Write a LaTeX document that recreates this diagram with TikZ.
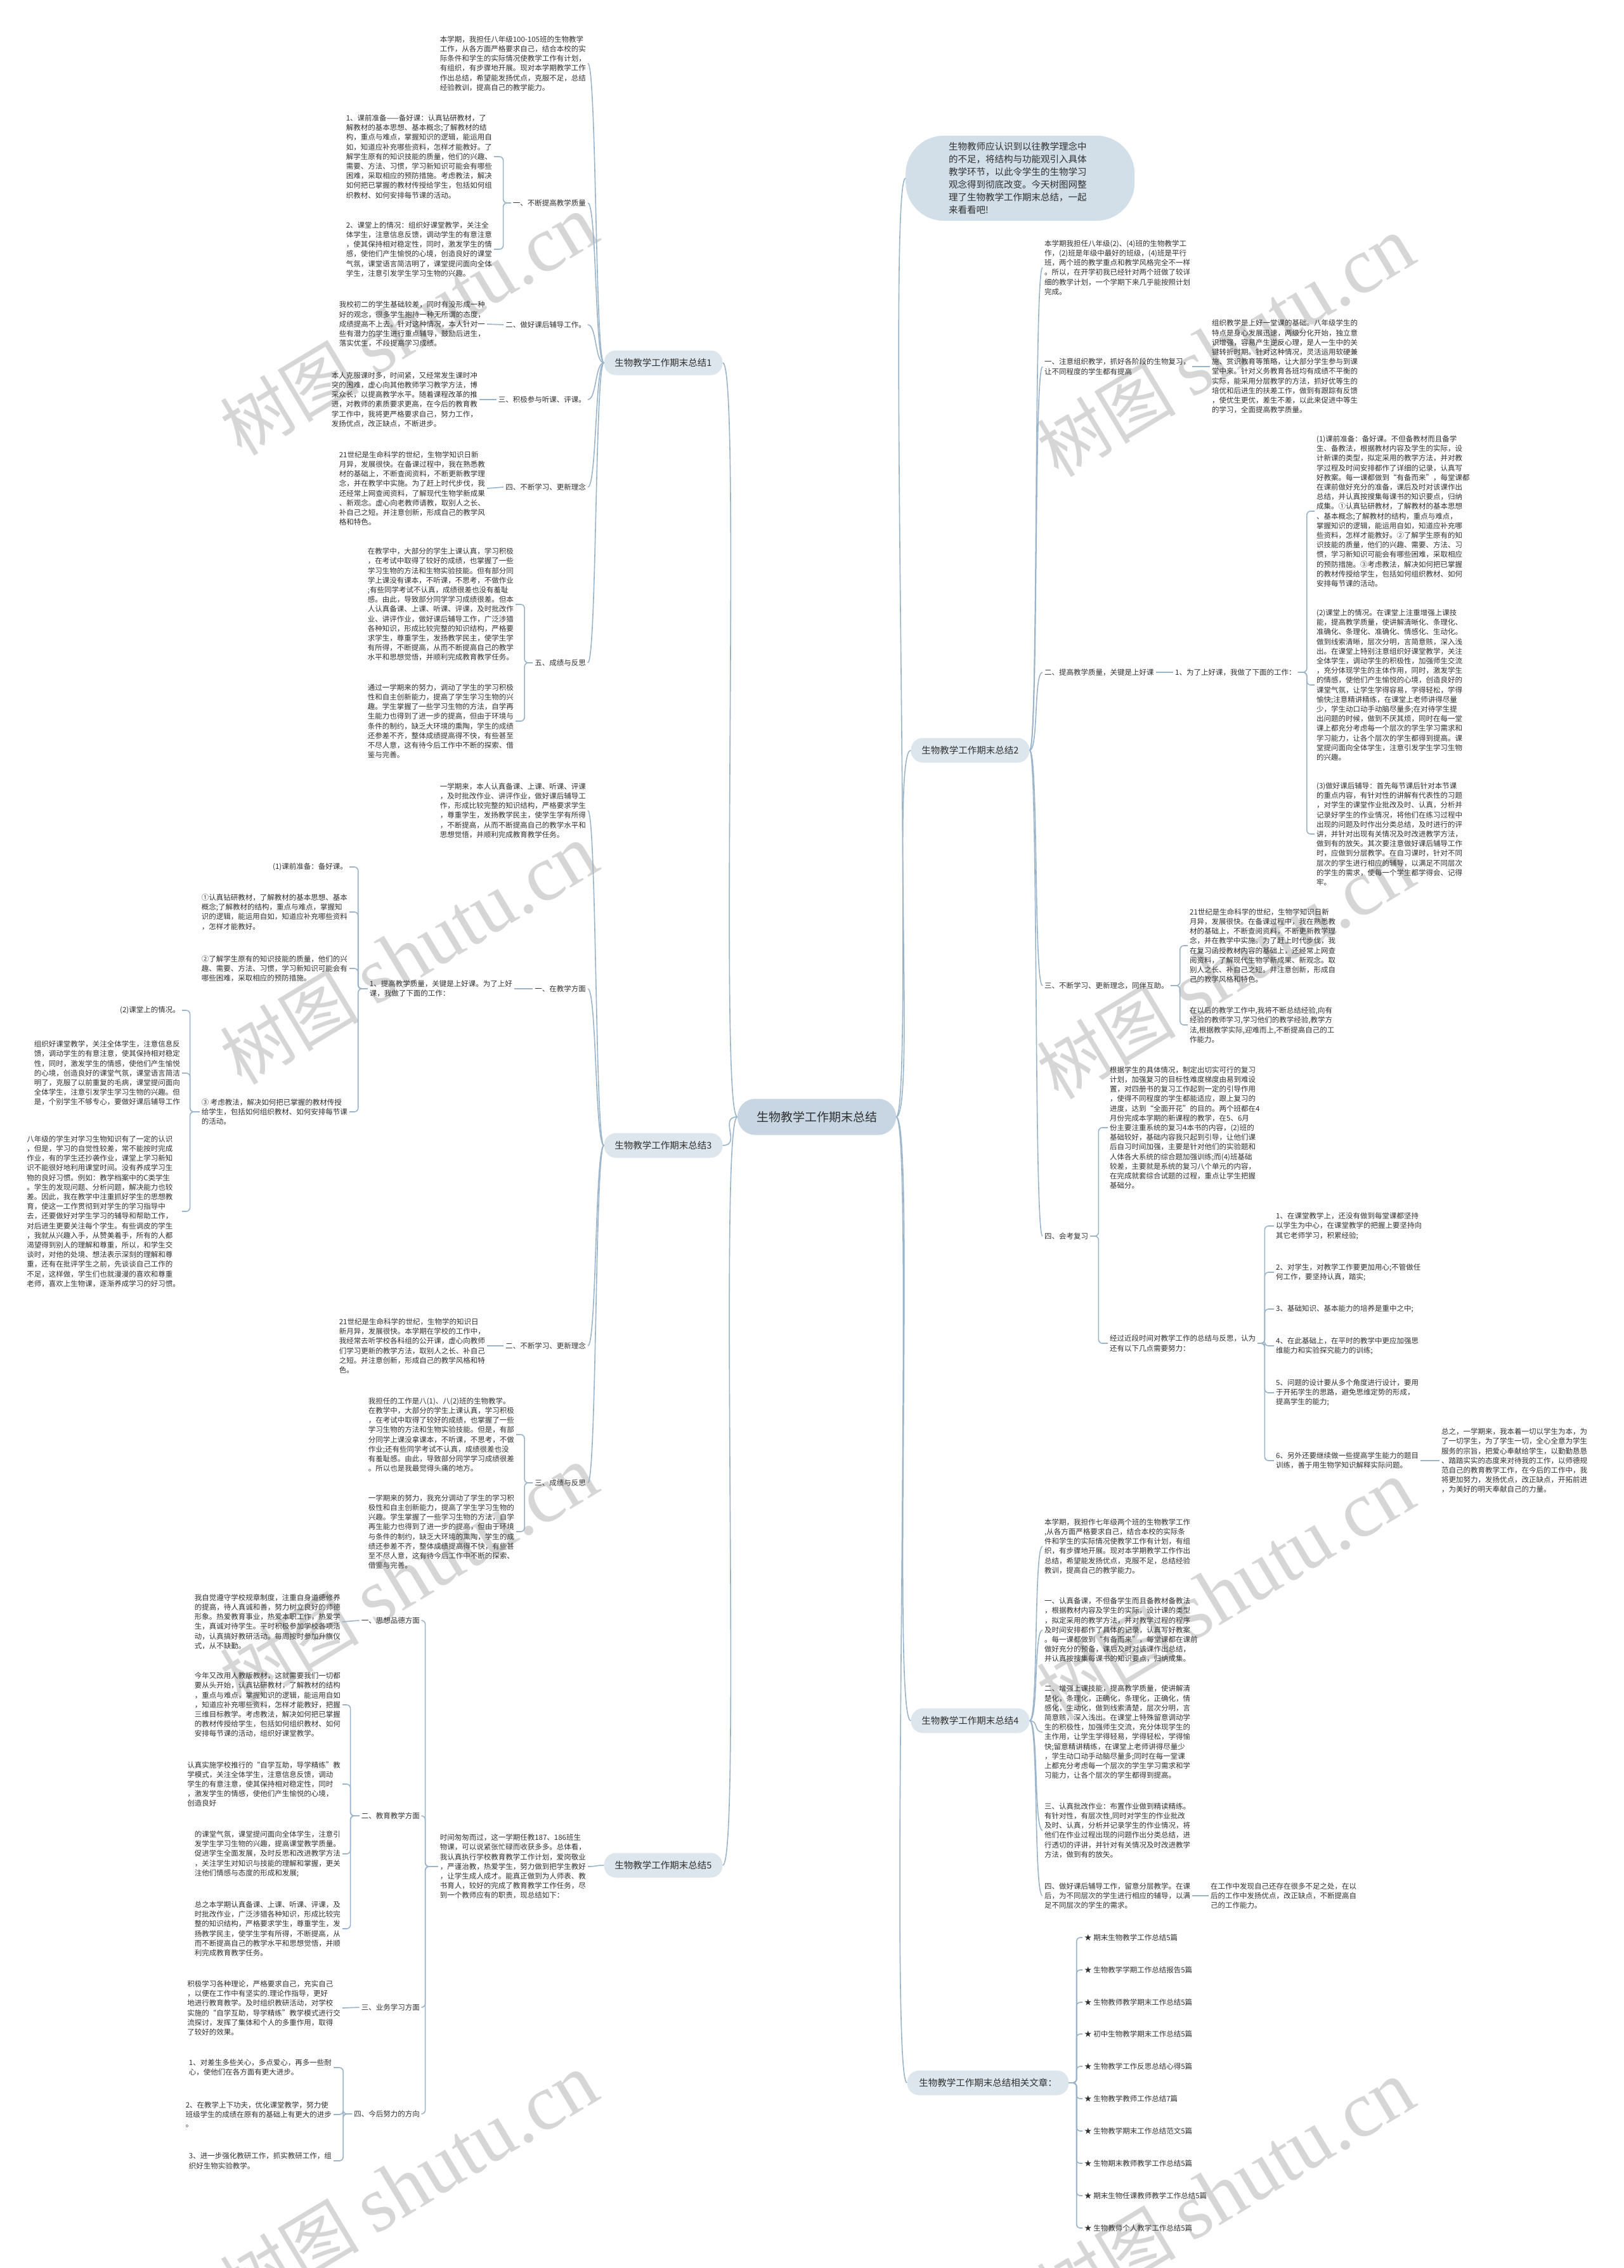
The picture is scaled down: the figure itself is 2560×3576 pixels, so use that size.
\documentclass[tikz,border=0pt]{standalone}
\usepackage{fontspec}
\usepackage{tikz}
\usetikzlibrary{positioning, calc}
\setmainfont{Noto Sans CJK SC}
\newfontfamily\wmserif{Liberation Serif}
\definecolor{linkblue}{RGB}{155,180,201}
\definecolor{rootfill}{RGB}{199,214,226}
\definecolor{topicfill}{RGB}{221,230,237}
\definecolor{bodytext}{RGB}{48,48,48}
\definecolor{wmgray}{RGB}{214,214,214}

\begin{document}
\begin{tikzpicture}[x=1pt, y=-1pt,
    rootnode/.style={rectangle, rounded corners=28pt, fill=rootfill, minimum width=250pt, minimum height=57pt,
      font=\fontsize{19}{23}\selectfont, text=bodytext},
    topic/.style={rectangle, rounded corners=19pt, fill=topicfill, minimum width=187pt, minimum height=39pt,
      font=\fontsize{14.5}{18}\selectfont, text=bodytext},
    bubble/.style={rectangle, rounded corners=60pt, fill=rootfill!80!white, text width=225pt, inner xsep=68pt,
      minimum height=134pt, align=left, font=\fontsize{14.5}{20}\selectfont, text=bodytext},
    txt/.style={align=left, inner sep=3pt, font=\fontsize{11.5}{15.2}\selectfont, text=bodytext},
    ltxt/.style={txt, anchor=east},
    rtxt/.style={txt, anchor=west},
    link/.style={draw=linkblue, line width=1.6pt, rounded corners=6pt},
    wmark/.style={text=wmgray, rotate=31, font=\fontsize{110}{110}\selectfont}
  ]
  \fill[white] (0,0) rectangle (2560,3576);
  \useasboundingbox (0,0) rectangle (2560,3576);

  \node[wmark] (wm1) at (645,513) {树图 {\wmserif\fontsize{125}{125}\selectfont shutu.cn}};
  \node[wmark] (wm2) at (1933,547) {树图 {\wmserif\fontsize{125}{125}\selectfont shutu.cn}};
  \node[wmark] (wm3) at (645,1505) {树图 {\wmserif\fontsize{125}{125}\selectfont shutu.cn}};
  \node[wmark] (wm4) at (1933,1528) {树图 {\wmserif\fontsize{125}{125}\selectfont shutu.cn}};
  \node[wmark] (wm5) at (645,2485) {树图 {\wmserif\fontsize{125}{125}\selectfont shutu.cn}};
  \node[wmark] (wm6) at (1933,2508) {树图 {\wmserif\fontsize{125}{125}\selectfont shutu.cn}};
  \node[wmark] (wm7) at (645,3443) {树图 {\wmserif\fontsize{125}{125}\selectfont shutu.cn}};
  \node[wmark] (wm8) at (1933,3454) {树图 {\wmserif\fontsize{125}{125}\selectfont shutu.cn}};

  \node[rootnode] (root) at (1288,1761) {生物教学工作期末总结};

  \node[topic] (b1) at (1046,572) {生物教学工作期末总结1};
  \node[topic] (b3) at (1046,1806) {生物教学工作期末总结3};
  \node[topic] (b5) at (1046,2941) {生物教学工作期末总结5};
  \node[topic] (b2) at (1530,1183) {生物教学工作期末总结2};
  \node[topic] (b4) at (1530,2713) {生物教学工作期末总结4};
  \node[topic, minimum width=255pt] (rel) at (1558,3284) {生物教学工作期末总结相关文章：};
  \node[bubble, anchor=west] (intro) at (1428,281) {生物教师应认识到以往教学理念中\\的不足，将结构与功能观引入具体\\教学环节，以此令学生的生物学习\\观念得到彻底改变。今天树图网整\\理了生物教学工作期末总结，一起\\来看看吧!};

  \draw[link] (root.west) .. controls +(-30,0) and +(30,0) .. (b1.east);
  \draw[link] (root.west) .. controls +(-30,0) and +(30,0) .. (b3.east);
  \draw[link] (root.west) .. controls +(-30,0) and +(30,0) .. (b5.east);
  \draw[link] (root.east) .. controls +(30,0) and +(-30,0) .. (intro.west);
  \draw[link] (root.east) .. controls +(30,0) and +(-30,0) .. (b2.west);
  \draw[link] (root.east) .. controls +(30,0) and +(-30,0) .. (b4.west);
  \draw[link] (root.east) .. controls +(30,0) and +(-30,0) .. (rel.west);

  \node[ltxt] (b1intro) at (927,100) {本学期，我担任八年级100-105班的生物教学\\工作，从各方面严格要求自己，结合本校的实\\际条件和学生的实际情况使教学工作有计划，\\有组织，有步骤地开展。现对本学期教学工作\\作出总结，希望能发扬优点，克服不足，总结\\经验教训，提高自己的教学能力。};
  \node[ltxt] (b1s1) at (927,320) {一、不断提高教学质量};
  \node[ltxt] (b1s1a) at (779,247) {1、课前准备——备好课：认真钻研教材，了\\解教材的基本思想、基本概念;了解教材的结\\构，重点与难点，掌握知识的逻辑，能运用自\\如，知道应补充哪些资料，怎样才能教好。了\\解学生原有的知识技能的质量，他们的兴趣、\\需要、方法、习惯，学习新知识可能会有哪些\\困难，采取相应的预防措施。考虑教法，解决\\如何把已掌握的教材传授给学生，包括如何组\\织教材、如何安排每节课的活动。};
  \node[ltxt] (b1s1b) at (779,393) {2、课堂上的情况：组织好课堂教学，关注全\\体学生，注意信息反馈，调动学生的有意注意\\，使其保持相对稳定性，同时，激发学生的情\\感，使他们产生愉悦的心境，创造良好的课堂\\气氛，课堂语言简洁明了，课堂提问面向全体\\学生，注意引发学生学习生物的兴趣。};
  \node[ltxt] (b1s2) at (927,512) {二、做好课后辅导工作。};
  \node[ltxt] (b1s2a) at (768,511) {我校初二的学生基础较差，同时有没形成一种\\好的观念，很多学生抱持一种无所谓的态度，\\成绩提高不上去。针对这种情况，本人针对一\\些有潜力的学生进行重点辅导，鼓励后进生，\\落实优生，不段提高学习成绩。};
  \node[ltxt] (b1s3) at (927,630) {三、积极参与听课、评课。};
  \node[ltxt] (b1s3a) at (756,630) {本人克服课时多，时间紧，又经常发生课时冲\\突的困难，虚心向其他教师学习教学方法，博\\采众长，以提高教学水平。随着课程改革的推\\进，对教师的素质要求更高，在今后的教育教\\学工作中，我将更严格要求自己，努力工作，\\发扬优点，改正缺点，不断进步。};
  \node[ltxt] (b1s4) at (927,768) {四、不断学习、更新理念};
  \node[ltxt] (b1s4a) at (768,770) {21世纪是生命科学的世纪，生物学知识日新\\月异，发展很快。在备课过程中，我在熟悉教\\材的基础上，不断查阅资料，不断更新教学理\\念，并在教学中实施。为了赶上时代步伐，我\\还经常上网查阅资料，了解现代生物学新成果\\、新观念。虚心向老教师请教，取别人之长、\\补自己之短。并注意创新，形成自己的教学风\\格和特色。};
  \node[ltxt] (b1s5) at (927,1045) {五、成绩与反思};
  \node[ltxt] (b1s5a) at (813,953) {在教学中，大部分的学生上课认真，学习积极\\，在考试中取得了较好的成绩，也掌握了一些\\学习生物的方法和生物实验技能。但有部分同\\学上课没有课本，不听课，不思考，不做作业\\;有些同学考试不认真，成绩很差也没有羞耻\\感。由此，导致部分同学学习成绩很差。但本\\人认真备课、上课、听课、评课，及时批改作\\业、讲评作业，做好课后辅导工作，广泛涉猎\\各种知识，形成比较完整的知识结构，严格要\\求学生，尊重学生，发扬教学民主，使学生学\\有所得，不断提高，从而不断提高自己的教学\\水平和思想觉悟，并顺利完成教育教学任务。};
  \node[ltxt] (b1s5b) at (813,1137) {通过一学期来的努力，调动了学生的学习积极\\性和自主创新能力，提高了学生学习生物的兴\\趣。学生掌握了一些学习生物的方法，自学再\\生能力也得到了进一步的提高，但由于环境与\\条件的制约，缺乏大环境的熏陶，学生的成绩\\还参差不齐，整体成绩提高得不快，有些甚至\\不尽人意，这有待今后工作中不断的探索、借\\鉴与完善。};

  \draw[link] (b1.west) .. controls +(-14,0) and +(14,0) .. (b1intro.east);
  \draw[link] (b1.west) .. controls +(-14,0) and +(14,0) .. (b1s1.east);
  \draw[link] (b1.west) .. controls +(-14,0) and +(14,0) .. (b1s2.east);
  \draw[link] (b1.west) .. controls +(-14,0) and +(14,0) .. (b1s3.east);
  \draw[link] (b1.west) .. controls +(-14,0) and +(14,0) .. (b1s4.east);
  \draw[link] (b1.west) .. controls +(-14,0) and +(14,0) .. (b1s5.east);
  \draw[link] (b1s1.west) -- ++(-12,0) |- (b1s1a.east);
  \draw[link] (b1s1.west) -- ++(-12,0) |- (b1s1b.east);
  \draw[link] (b1s2.west) -- (b1s2a.east);
  \draw[link] (b1s3.west) -- (b1s3a.east);
  \draw[link] (b1s4.west) -- (b1s4a.east);
  \draw[link] (b1s5.west) -- ++(-13,0) |- (b1s5a.east);
  \draw[link] (b1s5.west) -- ++(-13,0) |- (b1s5b.east);

  \node[ltxt] (b3intro) at (927,1278) {一学期来，本人认真备课、上课、听课、评课\\，及时批改作业、讲评作业，做好课后辅导工\\作，形成比较完整的知识结构，严格要求学生\\，尊重学生，发扬教学民主，使学生学有所得\\，不断提高，从而不断提高自己的教学水平和\\思想觉悟，并顺利完成教育教学任务。};
  \node[ltxt] (b3s1) at (927,1559) {一、在教学方面};
  \node[ltxt] (b3s1a) at (811,1559) {1、提高教学质量，关键是上好课。为了上好\\课，我做了下面的工作：};
  \node[ltxt] (b3p1) at (551,1367) {(1)课前准备：备好课。};
  \node[ltxt] (b3p2) at (551,1438) {①认真钻研教材，了解教材的基本思想、基本\\概念;了解教材的结构，重点与难点，掌握知\\识的逻辑，能运用自如，知道应补充哪些资料\\，怎样才能教好。};
  \node[ltxt] (b3p3) at (551,1527) {②了解学生原有的知识技能的质量，他们的兴\\趣、需要、方法、习惯，学习新知识可能会有\\哪些困难，采取相应的预防措施。};
  \node[ltxt] (b3p4) at (551,1753) {③ 考虑教法，解决如何把已掌握的教材传授\\给学生，包括如何组织教材、如何安排每节课\\的活动。};
  \node[ltxt] (b3q1) at (287,1593) {(2)课堂上的情况。};
  \node[ltxt] (b3q2) at (287,1692) {组织好课堂教学，关注全体学生，注意信息反\\馈，调动学生的有意注意，使其保持相对稳定\\性，同时，激发学生的情感，使他们产生愉悦\\的心境，创造良好的课堂气氛，课堂语言简洁\\明了，克服了以前重复的毛病，课堂提问面向\\全体学生，注意引发学生学习生物的兴趣。但\\是，个别学生不够专心，要做好课后辅导工作};
  \node[ltxt] (b3q3) at (287,1910) {八年级的学生对学习生物知识有了一定的认识\\，但是，学习的自觉性较差，常不能按时完成\\作业，有的学生还抄袭作业，课堂上学习新知\\识不能很好地利用课堂时间。没有养成学习生\\物的良好习惯。例如：教学档案中的C类学生\\。学生的发现问题、分析问题，解决能力也较\\差。因此，我在教学中注重抓好学生的思想教\\育，使这一工作贯彻到对学生的学习指导中\\去，还要做好对学生学习的辅导和帮助工作，\\对后进生更要关注每个学生。有些调皮的学生\\，我就从兴趣入手，从赞美着手，所有的人都\\渴望得到别人的理解和尊重，所以，和学生交\\谈时，对他的处境、想法表示深刻的理解和尊\\重，还有在批评学生之前，先谈谈自己工作的\\不足，这样做，学生们也就漫漫的喜欢和尊重\\老师，喜欢上生物课，逐渐养成学习的好习惯。};
  \node[ltxt] (b3s2) at (927,2122) {二、不断学习、更新理念};
  \node[ltxt] (b3s2a) at (768,2122) {21世纪是生命科学的世纪，生物学的知识日\\新月异，发展很快。本学期在学校的工作中，\\我经常去听学校各科组的公开课，虚心向教师\\们学习更新的教学方法，取别人之长、补自己\\之短。并注意创新，形成自己的教学风格和特\\色。};
  \node[ltxt] (b3s3) at (927,2338) {三、成绩与反思};
  \node[ltxt] (b3s3a) at (814,2262) {我担任的工作是八(1)、八(2)班的生物教学。\\在教学中，大部分的学生上课认真，学习积极\\，在考试中取得了较好的成绩，也掌握了一些\\学习生物的方法和生物实验技能。但是，有部\\分同学上课没拿课本，不听课，不思考，不做\\作业;还有些同学考试不认真，成绩很差也没\\有羞耻感。由此，导致部分同学学习成绩很差\\。所以也是我最觉得头痛的地方。};
  \node[ltxt] (b3s3b) at (814,2415) {一学期来的努力，我充分调动了学生的学习积\\极性和自主创新能力，提高了学生学习生物的\\兴趣。学生掌握了一些学习生物的方法，自学\\再生能力也得到了进一步的提高，但由于环境\\与条件的制约，缺乏大环境的熏陶，学生的成\\绩还参差不齐，整体成绩提高得不快，有些甚\\至不尽人意，这有待今后工作中不断的探索、\\借鉴与完善。};

  \draw[link] (b3.west) .. controls +(-14,0) and +(14,0) .. (b3intro.east);
  \draw[link] (b3.west) .. controls +(-14,0) and +(14,0) .. (b3s1.east);
  \draw[link] (b3.west) .. controls +(-14,0) and +(14,0) .. (b3s2.east);
  \draw[link] (b3.west) .. controls +(-14,0) and +(14,0) .. (b3s3.east);
  \draw[link] (b3s1.west) -- (b3s1a.east);
  \draw[link] (b3s1a.west) -- ++(-15,0) |- (b3p1.east);
  \draw[link] (b3s1a.west) -- ++(-15,0) |- (b3p2.east);
  \draw[link] (b3s1a.west) -- ++(-15,0) |- (b3p3.east);
  \draw[link] (b3s1a.west) -- ++(-15,0) |- (b3p4.east);
  \draw[link] (b3p4.west) -- ++(-15,0) |- (b3q1.east);
  \draw[link] (b3p4.west) -- ++(-15,0) |- (b3q2.east);
  \draw[link] (b3p4.west) -- ++(-15,0) |- (b3q3.east);
  \draw[link] (b3s2.west) -- (b3s2a.east);
  \draw[link] (b3s3.west) -- ++(-13,0) |- (b3s3a.east);
  \draw[link] (b3s3.west) -- ++(-13,0) |- (b3s3b.east);

  \node[ltxt] (b5root) at (927,2943) {时间匆匆而过，这一学期任教187、186班生\\物课，可以说紧张忙碌而收获多多。总体看，\\我认真执行学校教育教学工作计划，爱岗敬业\\，严谨治教，热爱学生，努力做到把学生教好\\，让学生成人成才。能真正做到为人师表、教\\书育人，较好的完成了教育教学工作任务，尽\\到一个教师应有的职责，现总结如下：};
  \node[ltxt] (b5s1) at (665,2555) {一、思想品德方面};
  \node[ltxt] (b5s1a) at (540,2557) {我自觉遵守学校规章制度，注重自身道德修养\\的提高，待人真诚和善，努力树立良好的师德\\形象。热爱教育事业，热爱本职工作，热爱学\\生，真诚对待学生。平时积极参加学校各项活\\动，认真搞好教研活动。每周按时参加升旗仪\\式，从不缺勤。};
  \node[ltxt] (b5s2) at (665,2863) {二、教育教学方面};
  \node[ltxt] (b5s2a) at (540,2688) {今年又改用人教版教材，这就需要我们一切都\\要从头开始，认真钻研教材，了解教材的结构\\，重点与难点，掌握知识的逻辑，能运用自如\\，知道应补充哪些资料，怎样才能教好，把握\\三维目标教学。考虑教法，解决如何把已掌握\\的教材传授给学生，包括如何组织教材、如何\\安排每节课的活动，组织好课堂教学。};
  \node[ltxt] (b5s2b) at (540,2813) {认真实施学校推行的“自学互助，导学精练”教\\学模式，关注全体学生，注意信息反馈，调动\\学生的有意注意，使其保持相对稳定性，同时\\，激发学生的情感，使他们产生愉悦的心境，\\创造良好};
  \node[ltxt] (b5s2c) at (540,2923) {的课堂气氛，课堂提问面向全体学生，注意引\\发学生学习生物的兴趣，提高课堂教学质量。\\促进学生全面发展，及时反思和改进教学方法\\，关注学生对知识与技能的理解和掌握，更关\\注他们情感与态度的形成和发展;};
  \node[ltxt] (b5s2d) at (540,3041) {总之本学期认真备课、上课、听课、评课，及\\时批改作业，广泛涉猎各种知识，形成比较完\\整的知识结构，严格要求学生，尊重学生，发\\扬教学民主，使学生学有所得，不断提高，从\\而不断提高自己的教学水平和思想觉悟，并顺\\利完成教育教学任务。};
  \node[ltxt] (b5s3) at (665,3165) {三、业务学习方面};
  \node[ltxt] (b5s3a) at (540,3166) {积极学习各种理论，严格要求自己，充实自己\\，以便在工作中有坚实的.理论作指导，更好\\地进行教育教学。及时组织教研活动，对学校\\实施的“自学互助，导学精练”教学模式进行交\\流探讨，发挥了集体和个人的多重作用，取得\\了较好的效果。};
  \node[ltxt] (b5s4) at (665,3333) {四、今后努力的方向};
  \node[ltxt] (b5s4a) at (526,3260) {1、对差生多些关心，多点爱心，再多一些耐\\心，使他们在各方面有更大进步。};
  \node[ltxt] (b5s4b) at (526,3334) {2、在教学上下功夫，优化课堂教学，努力使\\班级学生的成绩在原有的基础上有更大的进步\\。};
  \node[ltxt] (b5s4c) at (526,3407) {3、进一步强化教研工作，抓实教研工作，组\\织好生物实验教学。};

  \draw[link] (b5.west) .. controls +(-14,0) and +(14,0) .. (b5root.east);
  \draw[link] (b5root.west) -- ++(-20,0) |- (b5s1.east);
  \draw[link] (b5root.west) -- ++(-20,0) |- (b5s2.east);
  \draw[link] (b5root.west) -- ++(-20,0) |- (b5s3.east);
  \draw[link] (b5root.west) -- ++(-20,0) |- (b5s4.east);
  \draw[link] (b5s1.west) -- (b5s1a.east);
  \draw[link] (b5s2.west) -- ++(-14,0) |- (b5s2a.east);
  \draw[link] (b5s2.west) -- ++(-14,0) |- (b5s2b.east);
  \draw[link] (b5s2.west) -- ++(-14,0) |- (b5s2c.east);
  \draw[link] (b5s2.west) -- ++(-14,0) |- (b5s2d.east);
  \draw[link] (b5s3.west) -- (b5s3a.east);
  \draw[link] (b5s4.west) -- ++(-14,0) |- (b5s4a.east);
  \draw[link] (b5s4.west) -- ++(-14,0) |- (b5s4b.east);
  \draw[link] (b5s4.west) -- ++(-14,0) |- (b5s4c.east);

  \node[rtxt] (b2intro) at (1644,422) {本学期我担任八年级(2)、(4)班的生物教学工\\作，(2)班是年级中最好的班级，(4)班是平行\\班，两个班的教学重点和教学风格完全不一样\\。所以，在开学初我已经针对两个班做了较详\\细的教学计划，一个学期下来几乎能按照计划\\完成。};
  \node[rtxt] (b2s1) at (1644,578) {一、注意组织教学，抓好各阶段的生物复习，\\让不同程度的学生都有提高};
  \node[rtxt] (b2s1a) at (1908,578) {组织教学是上好一堂课的基础。八年级学生的\\特点是身心发展迅速，两级分化开始，独立意\\识增强，容易产生逆反心理，是人一生中的关\\键转折时期。针对这种情况，灵活运用软硬兼\\施、赏识教育等策略，让大部分学生参与到课\\堂中来。针对义务教育各班均有成绩不平衡的\\实际，能采用分层教学的方法，抓好优等生的\\培优和后进生的扶差工作，做到有跟踪有反馈\\，使优生更优，差生不差，以此来促进中等生\\的学习，全面提高教学质量。};
  \node[rtxt] (b2s2) at (1644,1060) {二、提高教学质量，关键是上好课};
  \node[rtxt] (b2s2a) at (1850,1060) {1、为了上好课，我做了下面的工作：};
  \node[rtxt] (b2p1) at (2073,806) {(1)课前准备：备好课。不但备教材而且备学\\生、备教法，根据教材内容及学生的实际，设\\计新课的类型，拟定采用的教学方法，并对教\\学过程及时间安排都作了详细的记录，认真写\\好教案。每一课都做到“有备而来”，每堂课都\\在课前做好充分的准备，课后及时对该课作出\\总结，并认真按搜集每课书的知识要点，归纳\\成集。①认真钻研教材，了解教材的基本思想\\、基本概念;了解教材的结构，重点与难点，\\掌握知识的逻辑，能运用自如，知道应补充哪\\些资料，怎样才能教好。②了解学生原有的知\\识技能的质量，他们的兴趣、需要、方法、习\\惯，学习新知识可能会有哪些困难，采取相应\\的预防措施。③考虑教法，解决如何把已掌握\\的教材传授给学生，包括如何组织教材、如何\\安排每节课的活动。};
  \node[rtxt] (b2p2) at (2073,1080) {(2)课堂上的情况。在课堂上注重增强上课技\\能，提高教学质量，使讲解清晰化、条理化、\\准确化、条理化、准确化、情感化、生动化。\\做到线索清晰，层次分明，言简意赅，深入浅\\出。在课堂上特别注意组织好课堂教学，关注\\全体学生，调动学生的积极性，加强师生交流\\，充分体现学生的主体作用，同时，激发学生\\的情感，使他们产生愉悦的心境，创造良好的\\课堂气氛，让学生学得容易，学得轻松，学得\\愉快;注意精讲精练，在课堂上老师讲得尽量\\少，学生动口动手动脑尽量多;在对待学生提\\出问题的时候，做到不厌其烦，同时在每一堂\\课上都充分考虑每一个层次的学生学习需求和\\学习能力，让各个层次的学生都得到提高。课\\堂提问面向全体学生，注意引发学生学习生物\\的兴趣。};
  \node[rtxt] (b2p3) at (2073,1315) {(3)做好课后辅导：首先每节课后针对本节课\\的重点内容，有针对性的讲解有代表性的习题\\，对学生的课堂作业批改及时、认真，分析并\\记录好学生的作业情况，将他们在练习过程中\\出现的问题及时作出分类总结，及时进行的评\\讲，并针对出现有关情况及时改进教学方法，\\做到有的放矢。其次要注意做好课后辅导工作\\时，应做到分层教学。在自习课时，针对不同\\层次的学生进行相应的辅导，以满足不同层次\\的学生的需求，使每一个学生都学得会、记得\\牢。};
  \node[rtxt] (b2s3) at (1644,1554) {三、不断学习、更新理念，同伴互助。};
  \node[rtxt] (b2s3a) at (1873,1491) {21世纪是生命科学的世纪，生物学知识日新\\月异，发展很快。在备课过程中，我在熟悉教\\材的基础上，不断查阅资料，不断更新教学理\\念，并在教学中实施。为了赶上时代步伐，我\\在复习函授教材内容的基础上，还经常上网查\\阅资料，了解现代生物学新成果、新观念。取\\别人之长、补自己之短。并注意创新，形成自\\己的教学风格和特色。};
  \node[rtxt] (b2s3b) at (1873,1616) {在以后的教学工作中,我将不断总结经验,向有\\经验的教师学习,学习他们的教学经验,教学方\\法,根据教学实际,迎难而上,不断提高自己的工\\作能力。};
  \node[rtxt] (b2s4) at (1644,1949) {四、会考复习};
  \node[rtxt] (b2s4a) at (1747,1778) {根据学生的具体情况，制定出切实可行的复习\\计划，加强复习的目标性难度梯度由易到难设\\置，对四册书的复习工作起到一定的引导作用\\，使得不同程度的学生都能适应，跟上复习的\\进度，达到“全面开花”的目的。两个班都在4\\月份完成本学期的新课程的教学，在5、6月\\份主要注重系统的复习4本书的内容，(2)班的\\基础较好，基础内容我只起到引导，让他们课\\后自习时间加强，主要是针对他们的实验题和\\人体各大系统的综合题加强训练;而(4)班基础\\较差，主要就是系统的复习八个单元的内容，\\在完成就套综合试题的过程，重点让学生把握\\基础分。};
  \node[rtxt] (b2s4b) at (1747,2118) {经过近段时间对教学工作的总结与反思，认为\\还有以下几点需要努力：};
  \node[rtxt] (b2r1) at (2009,1933) {1、在课堂教学上，还没有做到每堂课都坚持\\以学生为中心，在课堂教学的把握上要坚持向\\其它老师学习，积累经验;};
  \node[rtxt] (b2r2) at (2009,2006) {2、对学生，对教学工作要更加用心;不管做任\\何工作，要坚持认真，踏实;};
  \node[rtxt] (b2r3) at (2009,2064) {3、基础知识、基本能力的培养是重中之中;};
  \node[rtxt] (b2r4) at (2009,2122) {4、在此基础上，在平时的教学中更应加强思\\维能力和实验探究能力的训练;};
  \node[rtxt] (b2r5) at (2009,2196) {5、问题的设计要从多个角度进行设计，要用\\于开拓学生的思路，避免思维定势的形成，\\提高学生的能力;};
  \node[rtxt] (b2r6) at (2009,2303) {6、另外还要继续做一些提高学生能力的题目\\训练，善于用生物学知识解释实际问题。};
  \node[rtxt] (b2sum) at (2270,2303) {总之，一学期来，我本着一切以学生为本，为\\了一切学生，为了学生一切，全心全意为学生\\服务的宗旨，把爱心奉献给学生，以勤勤恳恳\\、踏踏实实的态度来对待我的工作，以师德规\\范自己的教育教学工作，在今后的工作中，我\\将更加努力，发扬优点，改正缺点，开拓前进\\，为美好的明天奉献自己的力量。};

  \draw[link] (b2.east) .. controls +(14,0) and +(-14,0) .. (b2intro.west);
  \draw[link] (b2.east) .. controls +(14,0) and +(-14,0) .. (b2s1.west);
  \draw[link] (b2.east) .. controls +(14,0) and +(-14,0) .. (b2s2.west);
  \draw[link] (b2.east) .. controls +(14,0) and +(-14,0) .. (b2s3.west);
  \draw[link] (b2.east) .. controls +(14,0) and +(-14,0) .. (b2s4.west);
  \draw[link] (b2s1.east) -- (b2s1a.west);
  \draw[link] (b2s2.east) -- (b2s2a.west);
  \draw[link] (b2s2a.east) -- ++(14,0) |- (b2p1.west);
  \draw[link] (b2s2a.east) -- ++(14,0) |- (b2p2.west);
  \draw[link] (b2s2a.east) -- ++(14,0) |- (b2p3.west);
  \draw[link] (b2s3.east) -- ++(15,0) |- (b2s3a.west);
  \draw[link] (b2s3.east) -- ++(15,0) |- (b2s3b.west);
  \draw[link] (b2s4.east) -- ++(13,0) |- (b2s4a.west);
  \draw[link] (b2s4.east) -- ++(13,0) |- (b2s4b.west);
  \draw[link] (b2s4b.east) -- ++(11,0) |- (b2r1.west);
  \draw[link] (b2s4b.east) -- ++(11,0) |- (b2r2.west);
  \draw[link] (b2s4b.east) -- ++(11,0) |- (b2r3.west);
  \draw[link] (b2s4b.east) -- ++(11,0) |- (b2r4.west);
  \draw[link] (b2s4b.east) -- ++(11,0) |- (b2r5.west);
  \draw[link] (b2s4b.east) -- ++(11,0) |- (b2r6.west);
  \draw[link] (b2r6.east) -- (b2sum.west);

  \node[rtxt] (b4intro) at (1644,2438) {本学期，我担作七年级两个班的生物教学工作\\,从各方面严格要求自己，结合本校的实际条\\件和学生的实际情况使教学工作有计划，有组\\织，有步骤地开展。现对本学期教学工作作出\\总结，希望能发扬优点，克服不足，总结经验\\教训，提高自己的教学能力。};
  \node[rtxt] (b4s1) at (1644,2570) {一、认真备课，不但备学生而且备教材备教法\\，根据教材内容及学生的实际，设计课的类型\\，拟定采用的教学方法，并对教学过程的程序\\及时间安排都作了具体的记录，认真写好教案\\。每一课都做到“有备而来”，每堂课都在课前\\做好充分的预备，课后及时对该课作出总结，\\并认真按搜集每课书的知识要点，归纳成集。};
  \node[rtxt] (b4s2) at (1644,2731) {二、增强上课技能，提高教学质量，使讲解清\\楚化，条理化，正确化，条理化，正确化，情\\感化，生动化，做到线索清楚，层次分明，言\\简意赅，深入浅出。在课堂上特殊留意调动学\\生的积极性，加强师生交流，充分体现学生的\\主作用，让学生学得轻易，学得轻松，学得愉\\快;留意精讲精练，在课堂上老师讲得尽量少\\，学生动口动手动脑尽量多;同时在每一堂课\\上都充分考虑每一个层次的学生学习需求和学\\习能力，让各个层次的学生都得到提高。};
  \node[rtxt] (b4s3) at (1644,2886) {三、认真批改作业：布置作业做到精读精练。\\有针对性，有层次性,同时对学生的作业批改\\及时、认真，分析并记录学生的作业情况，将\\他们在作业过程出现的问题作出分类总结，进\\行透切的评讲，并针对有关情况及时改进教学\\方法，做到有的放矢。};
  \node[rtxt] (b4s4) at (1644,2989) {四、做好课后辅导工作，留意分层教学。在课\\后，为不同层次的学生进行相应的辅导，以满\\足不同层次的学生的需求。};
  \node[rtxt] (b4s4a) at (1906,2989) {在工作中发现自己还存在很多不足之处，在以\\后的工作中发扬优点，改正缺点，不断提高自\\己的工作能力。};

  \draw[link] (b4.east) .. controls +(14,0) and +(-14,0) .. (b4intro.west);
  \draw[link] (b4.east) .. controls +(14,0) and +(-14,0) .. (b4s1.west);
  \draw[link] (b4.east) .. controls +(14,0) and +(-14,0) .. (b4s2.west);
  \draw[link] (b4.east) .. controls +(14,0) and +(-14,0) .. (b4s3.west);
  \draw[link] (b4.east) .. controls +(14,0) and +(-14,0) .. (b4s4.west);
  \draw[link] (b4s4.east) -- (b4s4a.west);

  \node[rtxt] (rel1) at (1707,3055) {★ 期末生物教学工作总结5篇};
  \node[rtxt] (rel2) at (1707,3106) {★ 生物教学学期工作总结报告5篇};
  \node[rtxt] (rel3) at (1707,3157) {★ 生物教师教学期末工作总结5篇};
  \node[rtxt] (rel4) at (1707,3207) {★ 初中生物教学期末工作总结5篇};
  \node[rtxt] (rel5) at (1707,3258) {★ 生物教学工作反思总结心得5篇};
  \node[rtxt] (rel6) at (1707,3309) {★ 生物教学教师工作总结7篇};
  \node[rtxt] (rel7) at (1707,3360) {★ 生物教学期末工作总结范文5篇};
  \node[rtxt] (rel8) at (1707,3411) {★ 生物期末教师教学工作总结5篇};
  \node[rtxt] (rel9) at (1707,3462) {★ 期末生物任课教师教学工作总结5篇};
  \node[rtxt] (rel10) at (1707,3513) {★ 生物教师个人教学工作总结5篇};

  \draw[link] (rel.east) -- ++(12,0) |- (rel1.west);
  \draw[link] (rel.east) -- ++(12,0) |- (rel2.west);
  \draw[link] (rel.east) -- ++(12,0) |- (rel3.west);
  \draw[link] (rel.east) -- ++(12,0) |- (rel4.west);
  \draw[link] (rel.east) -- ++(12,0) |- (rel5.west);
  \draw[link] (rel.east) -- ++(12,0) |- (rel6.west);
  \draw[link] (rel.east) -- ++(12,0) |- (rel7.west);
  \draw[link] (rel.east) -- ++(12,0) |- (rel8.west);
  \draw[link] (rel.east) -- ++(12,0) |- (rel9.west);
  \draw[link] (rel.east) -- ++(12,0) |- (rel10.west);
\end{tikzpicture}
\end{document}
